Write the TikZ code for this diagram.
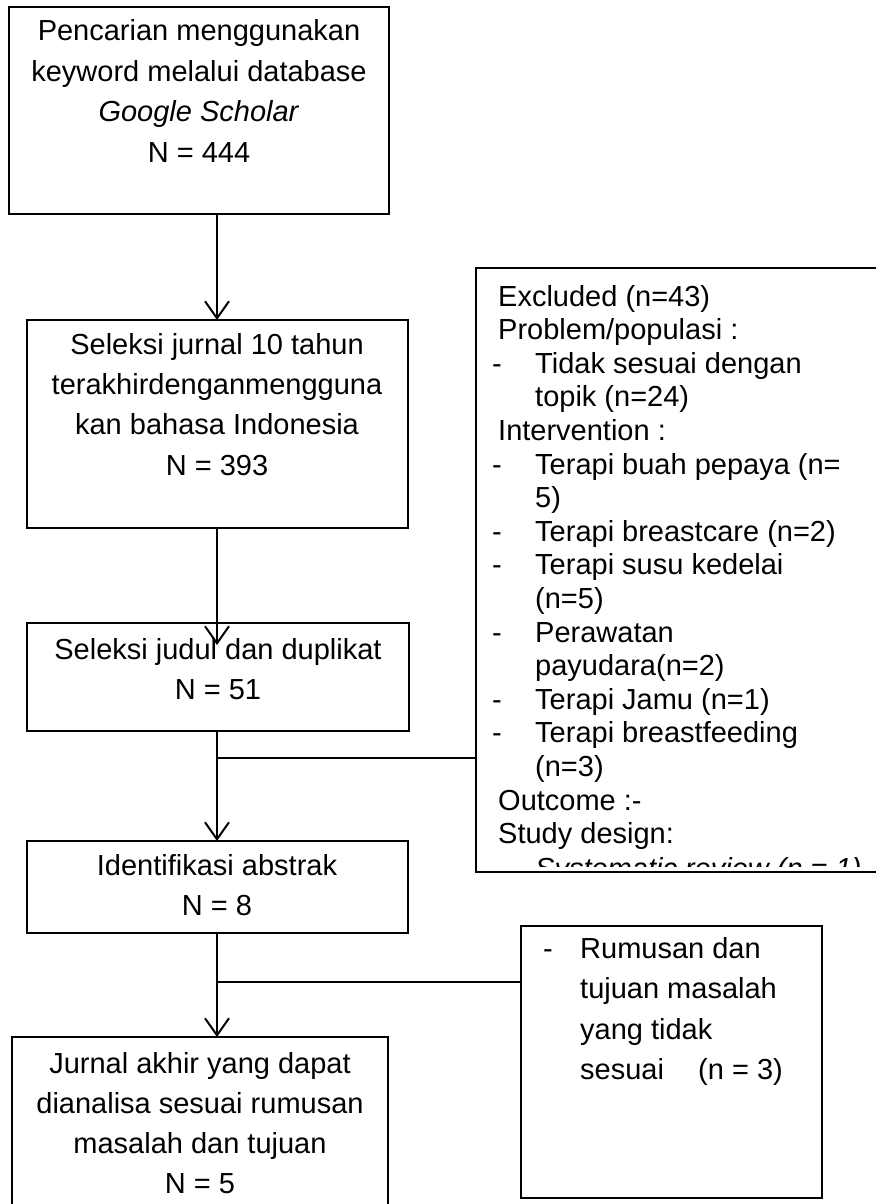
\documentclass[tikz,border=0pt]{standalone}
\usepackage{fontspec}
\setmainfont{Liberation Sans}
\usetikzlibrary{arrows.meta}
\begin{document}
\begin{tikzpicture}[x=1pt,y=-1pt,
  boxline/.style={draw=black, line width=2pt, inner sep=0pt, outer sep=0pt, anchor=north west},
  txt/.style={inner sep=0pt, anchor=base, font=\fontsize{29}{40}\selectfont},
  txl/.style={inner sep=0pt, anchor=base west, font=\fontsize{29}{33.6}\selectfont},
  conn/.style={line width=2pt},
  arr/.style={conn, -{Straight Barb[length=17pt,width=24pt,line width=2pt]}}]
\useasboundingbox (0,0) rectangle (875,1204);
% boxes
\node[boxline, minimum width=380pt, minimum height=207pt] (b1) at (9,7) {};
\node[boxline, minimum width=381pt, minimum height=208pt] (b2) at (27,320) {};
\node[boxline, minimum width=382pt, minimum height=108pt] (b3) at (27,623) {};
\node[boxline, minimum width=381pt, minimum height=92pt] (b4) at (27,841) {};
\node[boxline, minimum width=376pt, minimum height=190pt] (b6) at (12,1037) {};
\node[boxline, line width=2.4pt, minimum width=420pt, minimum height=604pt] (bx) at (476,268) {};
\node[boxline, minimum width=301pt, minimum height=272pt] (b5) at (521,926) {};
% box texts
\node[txt] (t1a) at (199,41) {Pencarian menggunakan};
\node[txt] (t1b) at (199,81.3) {keyword melalui database};
\node[txt] (t1c) at (199,121.6) {\textit{Google Scholar}};
\node[txt] (t1d) at (199,162) {N = 444};
\node[txt] (t2a) at (217,354) {Seleksi jurnal 10 tahun};
\node[txt] (t2b) at (217,394.3) {terakhirdenganmengguna};
\node[txt] (t2c) at (217,434.6) {kan bahasa Indonesia};
\node[txt] (t2d) at (217,475) {N = 393};
\node[txt] (t3a) at (218,659) {Seleksi judul dan duplikat};
\node[txt] (t3b) at (218,699) {N = 51};
\node[txt] (t4a) at (217,875) {Identifikasi abstrak};
\node[txt] (t4b) at (217,915) {N = 8};
\node[txt] (t6a) at (200,1073) {Jurnal akhir yang dapat};
\node[txt] (t6b) at (200,1113) {dianalisa sesuai rumusan};
\node[txt] (t6c) at (200,1153) {masalah dan tujuan};
\node[txt] (t6d) at (200,1193) {N = 5};
% excluded list
\begin{scope}
\clip (476,268) rectangle (875,866);
\node[txl] (e1) at (498,306) {Excluded (n=43)};
\node[txl] (e2) at (498,339.6) {Problem/populasi :};
\node[txl] (e3d) at (492,373.2) {-};
\node[txl] (e3) at (535,373.2) {Tidak sesuai dengan};
\node[txl] (e4) at (535,406.8) {topik (n=24)};
\node[txl] (e5) at (498,440.4) {Intervention :};
\node[txl] (e6d) at (492,474) {-};
\node[txl] (e6) at (535,474) {Terapi buah pepaya (n=};
\node[txl] (e7) at (535,507.6) {5)};
\node[txl] (e8d) at (492,541.2) {-};
\node[txl] (e8) at (535,541.2) {Terapi breastcare (n=2)};
\node[txl] (e9d) at (492,574.8) {-};
\node[txl] (e9) at (535,574.8) {Terapi susu kedelai};
\node[txl] (e10) at (535,608.4) {(n=5)};
\node[txl] (e11d) at (492,642) {-};
\node[txl] (e11) at (535,642) {Perawatan};
\node[txl] (e12) at (535,675.6) {payudara(n=2)};
\node[txl] (e13d) at (492,709.2) {-};
\node[txl] (e13) at (535,709.2) {Terapi Jamu (n=1)};
\node[txl] (e14d) at (492,742.8) {-};
\node[txl] (e14) at (535,742.8) {Terapi breastfeeding};
\node[txl] (e15) at (535,776.4) {(n=3)};
\node[txl] (e16) at (498,810) {Outcome :-};
\node[txl] (e17) at (498,843.6) {Study design:};
\node[txl] (e18d) at (492,878) {-};
\node[txl] (e18) at (535,878) {\textit{Systematic review (n = 1)}};
\end{scope}
% second exclusion box
\node[txt, anchor=base west] (r1d) at (543,958) {-};
\node[txt, anchor=base west] (r1) at (580,958) {Rumusan dan};
\node[txt, anchor=base west] (r2) at (580,998.5) {tujuan masalah};
\node[txt, anchor=base west] (r3) at (580,1039) {yang tidak};
\node[txt, anchor=base west] (r4) at (580,1079.5) {sesuai};
\node[txt, anchor=base west] (r4b) at (698,1079.5) {(n = 3)};
% connectors
\coordinate (xl) at (217,0);
\coordinate (tip3) at (217,645);
\coordinate (j1) at (217,758);
\coordinate (j2) at (217,982);
\draw[arr] (b1.south -| xl) -- (b2.north -| xl);
\draw[arr] (b2.south -| xl) -- (tip3);
\draw[arr] (b3.south -| xl) -- (b4.north -| xl);
\draw[conn] (j1) -- (j1 -| bx.west);
\draw[arr] (b4.south -| xl) -- (b6.north -| xl);
\draw[conn] (j2) -- (j2 -| b5.west);
\end{tikzpicture}
\end{document}
